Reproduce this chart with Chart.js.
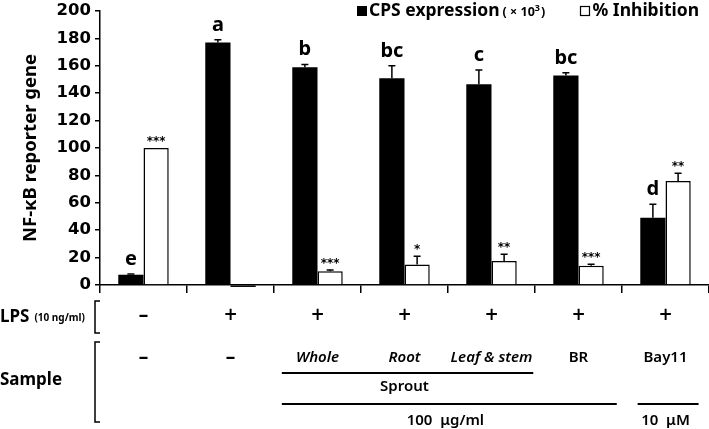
<!DOCTYPE html>
<html>
<head>
<meta charset="utf-8">
<script src="https://cdn.jsdelivr.net/npm/chart.js@4.4.1/dist/chart.umd.min.js"></script>
<style>
  html, body { margin: 0; padding: 0; background: #fff; }
</style>
</head>
<body>
<canvas id="c" width="709" height="429"></canvas>
<script>
const groups = ['Control', 'LPS', 'Whole', 'Root', 'Leaf & stem', 'BR', 'Bay11'];
const cpsValues = [7.5, 177, 159, 151, 146.5, 153, 49];
const cpsErrors = [0.5, 2, 2, 9, 10.5, 2, 10];
const inhibValues = [100, -0.6, 10, 15, 17.5, 14, 76];
const inhibErrors = [0, 0, 1, 6, 5, 1.2, 5.5];
const cpsLetters = ['e', 'a', 'b', 'bc', 'c', 'bc', 'd'];
const inhibStars = ['***', '', '***', '*', '**', '***', '**'];
const lpsRow = ['–', '+', '+', '+', '+', '+', '+'];
const sampleRow = ['–', '–', 'Whole', 'Root', 'Leaf & stem', 'BR', 'Bay11'];
const italicSamples = ['Whole', 'Root', 'Leaf & stem'];
const yMax = 200;
const yStep = 20;

Chart.defaults.font.family = "'Noto Sans', sans-serif";
Chart.defaults.color = '#000';

// error bars, only the upper half
const errorBars = {
    id: 'errorBars',
    afterDatasetsDraw(chart) {
        const { ctx } = chart;
        const y = chart.scales.y;
        [cpsErrors, inhibErrors].forEach((errs, di) => {
            const vals = chart.data.datasets[di].data;
            chart.getDatasetMeta(di).data.forEach((bar, i) => {
                if (!errs[i]) return;
                const top = y.getPixelForValue(vals[i] + errs[i]);
                ctx.save();
                ctx.strokeStyle = '#000';
                ctx.lineWidth = 1.5;
                ctx.beginPath();
                ctx.moveTo(bar.x, bar.y);
                ctx.lineTo(bar.x, top);
                ctx.moveTo(bar.x - 3.5, top);
                ctx.lineTo(bar.x + 3.5, top);
                ctx.stroke();
                ctx.restore();
            });
        });
        // the slightly negative inhibition bar sits just under the axis
        const meta = chart.getDatasetMeta(1);
        inhibValues.forEach((v, i) => {
            if (v >= 0) return;
            const bar = meta.data[i];
            ctx.save();
            ctx.strokeStyle = '#000';
            ctx.lineWidth = 1.5;
            ctx.beginPath();
            ctx.moveTo(bar.x - bar.width / 2, y.bottom + 1.2);
            ctx.lineTo(bar.x + bar.width / 2, y.bottom + 1.2);
            ctx.stroke();
            ctx.restore();
        });
    }
};

// letters and stars above the bars
const barLabels = {
    id: 'barLabels',
    afterDatasetsDraw(chart) {
        const { ctx } = chart;
        const y = chart.scales.y;
        ctx.save();
        ctx.fillStyle = '#000';
        ctx.textAlign = 'center';
        ctx.textBaseline = 'alphabetic';
        chart.getDatasetMeta(0).data.forEach((bar, i) => {
            const top = y.getPixelForValue(cpsValues[i] + cpsErrors[i]);
            ctx.font = "bold 20px 'Noto Sans'";
            ctx.fillText(cpsLetters[i], bar.x, top - 9);
        });
        chart.getDatasetMeta(1).data.forEach((bar, i) => {
            if (!inhibStars[i]) return;
            const top = y.getPixelForValue(Math.max(inhibValues[i], 0) + inhibErrors[i]);
            ctx.font = "bold 12px 'DejaVu Sans'";
            ctx.fillText(inhibStars[i], bar.x, top - 3);
        });
        ctx.restore();
    }
};

// legend at the top right
const topLegend = {
    id: 'topLegend',
    afterDraw(chart) {
        const { ctx } = chart;
        ctx.save();
        ctx.textBaseline = 'middle';
        ctx.fillStyle = '#000';
        let x = 357;
        const cy = 11;
        ctx.fillRect(x, cy - 5, 10, 10);
        x += 12;
        ctx.font = "bold 17.5px 'Noto Sans'";
        ctx.fillText('CPS expression', x, cy);
        x += ctx.measureText('CPS expression').width + 3;
        ctx.font = "bold 12.5px 'Noto Sans'";
        ctx.fillText('( × 10', x, cy + 1);
        x += ctx.measureText('( × 10').width;
        ctx.font = "bold 9px 'Noto Sans'";
        ctx.fillText('3', x, cy - 3);
        x += ctx.measureText('3').width + 1;
        ctx.font = "bold 12.5px 'Noto Sans'";
        ctx.fillText(')', x, cy + 1);

        x = 580.5;
        ctx.strokeStyle = '#000';
        ctx.lineWidth = 1.2;
        ctx.strokeRect(x, cy - 4.5, 9, 9);
        ctx.font = "bold 17.5px 'Noto Sans'";
        ctx.fillText('% Inhibition', x + 12, cy);
        ctx.restore();
    }
};

// treatment table under the x axis
const treatmentTable = {
    id: 'treatmentTable',
    afterDraw(chart) {
        const { ctx } = chart;
        const x = chart.scales.x;
        const cw = x.getPixelForValue(1) - x.getPixelForValue(0);
        const cx = i => x.getPixelForValue(i);
        ctx.save();
        ctx.fillStyle = '#000';
        ctx.strokeStyle = '#000';
        ctx.textBaseline = 'middle';

        // row titles
        ctx.textAlign = 'left';
        ctx.font = "bold 17px 'Noto Sans'";
        ctx.fillText('LPS', 0, 317);
        const lw = ctx.measureText('LPS').width;
        ctx.font = "bold 10px 'Noto Sans'";
        ctx.fillText('(10 ng/ml)', lw + 5, 318);
        ctx.font = "bold 17px 'Noto Sans'";
        ctx.fillText('Sample', 0, 380);

        // brackets
        ctx.lineWidth = 1.5;
        [[301, 333], [342, 422]].forEach(([a, b]) => {
            ctx.beginPath();
            ctx.moveTo(100, a);
            ctx.lineTo(95, a);
            ctx.lineTo(95, b);
            ctx.lineTo(100, b);
            ctx.stroke();
        });

        // LPS row
        ctx.textAlign = 'center';
        lpsRow.forEach((t, i) => {
            ctx.font = t === '+' ? "600 17px 'DejaVu Sans'" : "bold 19px 'Noto Sans'";
            ctx.fillText(t, cx(i), 316);
        });

        // sample row
        sampleRow.forEach((t, i) => {
            if (italicSamples.includes(t)) ctx.font = "italic 600 15px 'Noto Sans'";
            else if (t === '–') ctx.font = "bold 19px 'Noto Sans'";
            else ctx.font = "600 15px 'Noto Sans'";
            ctx.fillText(t, cx(i), 358);
        });

        // grouping lines
        ctx.lineWidth = 2;
        ctx.beginPath();
        ctx.moveTo(cx(2) - 0.41 * cw, 373);
        ctx.lineTo(cx(4) + 0.48 * cw, 373);
        ctx.moveTo(cx(2) - 0.41 * cw, 404);
        ctx.lineTo(cx(5) + 0.44 * cw, 404);
        ctx.moveTo(cx(6) - 0.32 * cw, 404);
        ctx.lineTo(cx(6) + 0.38 * cw, 404);
        ctx.stroke();

        ctx.font = "600 15px 'Noto Sans'";
        ctx.fillText('Sprout', cx(3), 387);
        ctx.fillText('100  μg/ml', (cx(2) + cx(5)) / 2 - 0.03 * cw, 421);
        ctx.fillText('10  μM', cx(6), 421);
        ctx.restore();
    }
};

new Chart(document.getElementById('c'), {
    type: 'bar',
    data: {
        labels: groups,
        datasets: [
            {
                label: 'CPS expression (×10³)',
                data: cpsValues,
                backgroundColor: '#000',
                borderColor: '#000',
                borderWidth: 0,
                categoryPercentage: 0.58,
                barPercentage: 1.0
            },
            {
                label: '% Inhibition',
                data: inhibValues,
                backgroundColor: '#fff',
                borderColor: '#000',
                borderWidth: 1.5,
                categoryPercentage: 0.58,
                barPercentage: 1.0
            }
        ]
    },
    options: {
        responsive: false,
        animation: false,
        layout: { padding: { top: 7, right: 0, left: 0, bottom: 0 } },
        plugins: {
            legend: { display: false },
            tooltip: { enabled: false }
        },
        scales: {
            x: {
                afterFit: s => { s.height = 144; },
                ticks: { display: false },
                grid: {
                    offset: true,
                    drawOnChartArea: false,
                    tickLength: 8,
                    color: '#000',
                    lineWidth: 1.5
                },
                border: { color: '#000', width: 1.5 }
            },
            y: {
                min: 0,
                max: yMax,
                afterFit: s => { s.width = 100; },
                ticks: {
                    stepSize: yStep,
                    padding: 4,
                    color: '#000',
                    font: { family: "'DejaVu Sans'", weight: 'bold', size: 16.5, lineHeight: 0.85 }
                },
                grid: {
                    drawOnChartArea: false,
                    tickLength: 5,
                    color: '#000',
                    lineWidth: 1.5
                },
                border: { color: '#000', width: 1.5 },
                title: {
                    display: true,
                    text: 'NF-κB reporter gene',
                    color: '#000',
                    padding: { top: 20, bottom: 0 },
                    font: { weight: 'bold', size: 18.5 }
                }
            }
        }
    },
    plugins: [errorBars, barLabels, topLegend, treatmentTable]
});
</script>
</body>
</html>
